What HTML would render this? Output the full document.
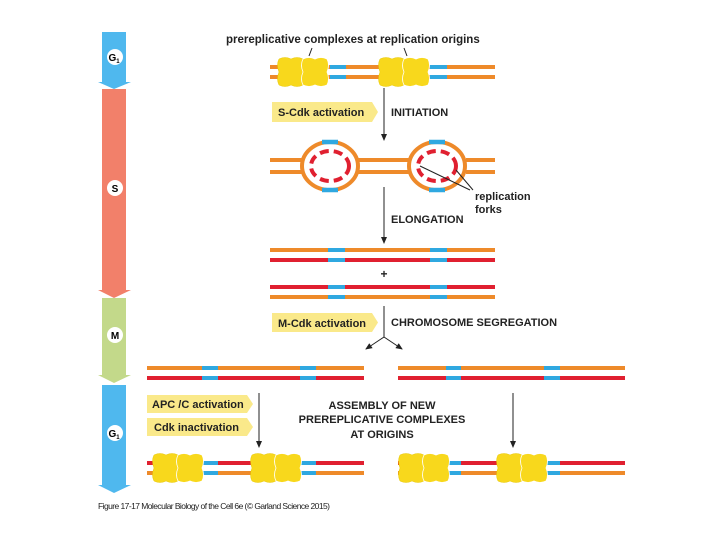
<!DOCTYPE html>
<html><head><style>body{margin:0;background:#fff}svg{display:block}</style></head><body>
<svg width="720" height="540" viewBox="0 0 720 540" xmlns="http://www.w3.org/2000/svg" font-family="Liberation Sans, sans-serif" font-weight="bold">
<defs>
<g id="cx"><path d="M0,-13 q6,-3 12,0 q6,-3 12,0 q3,6 0,13 q3,7 0,13 q-6,3 -12,0 q-6,3 -12,0 q-3,-6 0,-13 q-3,-7 0,-13z" fill="#f8d81c" stroke="#e8c800" stroke-width="0.5"/><path d="M24,-13 q6,-3 12,0 q6,-3 12,0 q3,6 0,13 q3,7 0,13 q-6,3 -12,0 q-6,3 -12,0 q-3,-6 0,-13 q-3,-7 0,-13z" fill="#f8d81c" stroke="#fff" stroke-width="0.8"/></g>
<marker id="ah" markerWidth="8" markerHeight="8" refX="6" refY="4" orient="auto" markerUnits="userSpaceOnUse"><path d="M0,1 L7,4 L0,7z" fill="#222"/></marker>
</defs>
<!-- left cycle bar -->
<path d="M102,32 H126 V82 H131 L114,89 L98,82 H102Z" fill="#4fb8ee"/>
<path d="M102,89 H126 V290 H131 L114,298 L98,290 H102Z" fill="#f2806a"/>
<path d="M102,298 H126 V375 H131 L114,383 L98,375 H102Z" fill="#c3d98a"/>
<path d="M102,385 H126 V485 H131 L114,493 L98,485 H102Z" fill="#4fb8ee"/>
<g font-size="10" text-anchor="middle"><circle cx="115" cy="57" r="8" fill="#fff"/><text x="114" y="61">G<tspan font-size="6" dy="2">1</tspan></text>
<circle cx="115" cy="188" r="8" fill="#fff"/><text x="115" y="192">S</text>
<circle cx="115" cy="335" r="8" fill="#fff"/><text x="115" y="339">M</text>
<circle cx="115" cy="433" r="8" fill="#fff"/><text x="114" y="437">G<tspan font-size="6" dy="2">1</tspan></text></g>
<!-- top -->
<text x="226" y="43" font-size="11.5" fill="#222">prereplicative complexes at replication origins</text>
<path d="M312,48 l-3,8 M404,48 l3,8" stroke="#222"/>
<g stroke-width="4"><path d="M270,67 H495 M270,77 H495" stroke="#ee8a2a"/><path d="M330,67 H346 M330,77 H346 M430,67 H447 M430,77 H447" stroke="#2fa8e0"/></g>
<use href="#cx" x="279" y="72"/><use href="#cx" x="380" y="72"/>
<line x1="384" y1="88" x2="384" y2="140" stroke="#222" marker-end="url(#ah)"/>
<path d="M272,102 H372 L378,112 L372,122 H272Z" fill="#fae98a"/><text x="278" y="116" font-size="11" fill="#222">S-Cdk activation</text>
<text x="391" y="116" font-size="11" fill="#222">INITIATION</text>
<!-- bubbles -->
<g fill="none" stroke-width="4">
<path d="M270,160 H302 M358,160 H410 M466,160 H495 M270,172 H302 M358,172 H410 M466,172 H495" stroke="#ee8a2a"/>
<ellipse cx="330" cy="166" rx="28" ry="24" stroke="#ee8a2a"/><ellipse cx="437" cy="166" rx="28" ry="24" stroke="#ee8a2a"/>
<path d="M322,142 H338 M322,190 H338 M429,142 H445 M429,190 H445" stroke="#2fa8e0" stroke-width="4.5"/>
<ellipse cx="330" cy="166" rx="19" ry="15" stroke="#e02030" stroke-dasharray="9 5"/><ellipse cx="437" cy="166" rx="19" ry="15" stroke="#e02030" stroke-dasharray="9 5"/>
</g>
<path d="M420,166 L470,190 M456,170 L473,190" stroke="#222"/>
<text x="475" y="200" font-size="11" fill="#222">replication</text><text x="475" y="213" font-size="11" fill="#222">forks</text>
<line x1="384" y1="187" x2="384" y2="243" stroke="#222" marker-end="url(#ah)"/>
<text x="391" y="223" font-size="11" fill="#222">ELONGATION</text>
<!-- row 3 -->
<g stroke-width="4"><path d="M270,250 H495 M270,297 H495" stroke="#ee8a2a"/><path d="M270,260 H495 M270,287 H495" stroke="#e02030"/>
<path d="M328,250 H345 M328,260 H345 M430,250 H447 M430,260 H447 M328,287 H345 M328,297 H345 M430,287 H447 M430,297 H447" stroke="#2fa8e0"/></g>
<text x="384" y="278" font-size="12" text-anchor="middle" fill="#222">+</text>
<path d="M272,313 H372 L378,322.5 L372,332 H272Z" fill="#fae98a"/><text x="278" y="327" font-size="11" fill="#222">M-Cdk activation</text>
<text x="391" y="326" font-size="11" fill="#222">CHROMOSOME SEGREGATION</text>
<path d="M384,306 V337" stroke="#222"/><line x1="384" y1="337" x2="366" y2="349" stroke="#222" marker-end="url(#ah)"/><line x1="384" y1="337" x2="402" y2="349" stroke="#222" marker-end="url(#ah)"/>
<!-- row 4 -->
<g stroke-width="4"><path d="M147,368 H364 M398,368 H625" stroke="#ee8a2a"/><path d="M147,378 H364 M398,378 H625" stroke="#e02030"/>
<path d="M202,368 H218 M202,378 H218 M300,368 H316 M300,378 H316 M446,368 H461 M446,378 H461 M544,368 H560 M544,378 H560" stroke="#2fa8e0"/></g>
<path d="M147,395 H247 L253,404 L247,413 H147Z" fill="#fae98a"/><text x="152" y="408" font-size="11" fill="#222">APC /C activation</text>
<path d="M147,418 H247 L253,427 L247,436 H147Z" fill="#fae98a"/><text x="154" y="431" font-size="11" fill="#222">Cdk inactivation</text>
<line x1="259" y1="393" x2="259" y2="447" stroke="#222" marker-end="url(#ah)"/><line x1="513" y1="393" x2="513" y2="447" stroke="#222" marker-end="url(#ah)"/>
<g font-size="11" text-anchor="middle" fill="#222"><text x="382" y="409">ASSEMBLY OF NEW</text><text x="382" y="423">PREREPLICATIVE COMPLEXES</text><text x="382" y="438">AT ORIGINS</text></g>
<!-- row 5 -->
<g stroke-width="4"><path d="M147,463 H364 M398,463 H625" stroke="#e02030"/><path d="M147,473 H364 M398,473 H625" stroke="#ee8a2a"/>
<path d="M202,463 H218 M202,473 H218 M300,463 H316 M300,473 H316 M446,463 H461 M446,473 H461 M544,463 H560 M544,473 H560" stroke="#2fa8e0"/></g>
<use href="#cx" x="154" y="468"/><use href="#cx" x="252" y="468"/><use href="#cx" x="400" y="468"/><use href="#cx" x="498" y="468"/>
<text x="98" y="509" font-size="8.5" font-weight="normal" fill="#222" textLength="232">Figure 17-17  Molecular Biology of the Cell 6e (© Garland Science 2015)</text>
</svg>
</body></html>
